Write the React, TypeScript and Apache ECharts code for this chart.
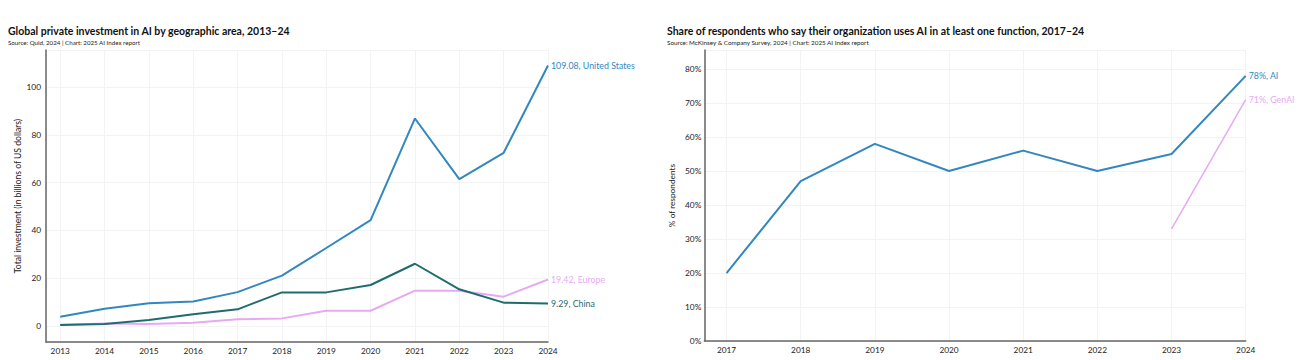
import React, { useEffect, useRef } from "react";
import * as echarts from "echarts";

const years1 = [2013, 2014, 2015, 2016, 2017, 2018, 2019, 2020, 2021, 2022, 2023, 2024];
const usValues = [3.8, 7.1, 9.4, 10.2, 14.1, 21.0, 32.6, 44.3, 86.9, 61.5, 72.5, 109.08];
const chinaValues = [0.3, 0.7, 2.4, 4.8, 6.9, 14.0, 14.0, 17.1, 26.0, 15.3, 9.7, 9.29];
const europeValues = [0.4, 1.0, 0.7, 1.3, 2.7, 3.1, 6.3, 6.3, 14.7, 14.7, 12.2, 19.42];

const years2 = [2017, 2018, 2019, 2020, 2021, 2022, 2023, 2024];
const aiValues = [20, 47, 58, 50, 56, 50, 55, 78];
const genAiYears = [2023, 2024];
const genAiValues = [33, 71];

const BLUE = "#3387bf";
const TEAL = "#1f6c70";
const PINK = "#e7aaf2";
const FONT = "Lato, 'Noto Sans', sans-serif";

const pairs = (xs: number[], ys: number[]) => xs.map((x, i) => [x, ys[i]]);

export default function App() {
  const ref = useRef<HTMLDivElement>(null);
  useEffect(() => {
    document.body.style.margin = "0";
    const chart = echarts.init(ref.current!, null, { renderer: "svg" });
    const axisLineStyle = { color: "#666", width: 1.5 };
    const splitLineStyle = { color: "#f3f3f3", width: 1 };
    const tickLabel = { color: "#222", fontSize: 8.3, fontFamily: FONT };
    const xLabelFmt = (v: number) => (Number.isInteger(v) ? String(v) : "");
    const endLabel = (color: string, fmt: (p: any) => string) => ({
      show: true,
      formatter: fmt,
      color,
      fontSize: 8.8,
      fontFamily: FONT,
      distance: 3,
    });
    chart.setOption({
      animation: false,
      graphic: [
        { type: "text", style: { text: "Global private investment in AI by geographic area, 2013–24", x: 8, y: 31, font: `bold 10.5px ${FONT}`, fill: "#111", textVerticalAlign: "middle" } },
        { type: "text", style: { text: "Source: Quid, 2024 | Chart: 2025 AI Index report", x: 8, y: 42, font: `6.2px ${FONT}`, fill: "#222", textVerticalAlign: "middle" } },
        { type: "text", style: { text: "Share of respondents who say their organization uses AI in at least one function, 2017–24", x: 667, y: 31, font: `bold 10.5px ${FONT}`, fill: "#111", textVerticalAlign: "middle" } },
        { type: "text", style: { text: "Source: McKinsey & Company Survey, 2024 | Chart: 2025 AI Index report", x: 667, y: 42, font: `6.3px ${FONT}`, fill: "#222", textVerticalAlign: "middle" } },
      ],
      grid: [
        { left: 46, top: 50, width: 502, bottom: 18 },
        { left: 704.3, top: 50, right: 58.3, bottom: 19 },
      ],
      xAxis: [
        {
          type: "value", gridIndex: 0, min: 2012.68, max: 2024, minInterval: 1, maxInterval: 1,
          axisLine: { show: true, onZero: false, lineStyle: axisLineStyle }, axisTick: { show: false },
          axisLabel: { ...tickLabel, margin: 5, formatter: xLabelFmt, showMinLabel: false },
          splitLine: { show: true, lineStyle: splitLineStyle },
        },
        {
          type: "value", gridIndex: 1, min: 2016.7, max: 2024, minInterval: 1, maxInterval: 1,
          axisLine: { show: true, onZero: false, lineStyle: axisLineStyle }, axisTick: { show: false },
          axisLabel: { ...tickLabel, margin: 5, formatter: xLabelFmt, showMinLabel: false },
          splitLine: { show: true, lineStyle: splitLineStyle },
        },
      ],
      yAxis: [
        {
          type: "value", gridIndex: 0, min: -6.8, max: 115.6, splitNumber: 5,
          name: "Total investment (in billions of US dollars)", nameLocation: "middle", nameGap: 24,
          nameTextStyle: { color: "#222", fontSize: 8.6, fontFamily: FONT },
          axisLine: { show: true, onZero: false, lineStyle: axisLineStyle }, axisTick: { show: false },
          axisLabel: { ...tickLabel, margin: 5, formatter: (v: number) => (v % 20 === 0 ? String(v) : ""), showMinLabel: false, showMaxLabel: false },
          splitLine: { show: true, lineStyle: splitLineStyle },
        },
        {
          type: "value", gridIndex: 1, min: 0, max: 85.6, interval: 10,
          name: "% of respondents", nameLocation: "middle", nameGap: 28,
          nameTextStyle: { color: "#222", fontSize: 8.3, fontFamily: FONT },
          axisLine: { show: true, onZero: false, lineStyle: axisLineStyle }, axisTick: { show: false },
          axisLabel: { ...tickLabel, margin: 3, formatter: (v: number) => (v % 10 === 0 ? v + "%" : ""), showMaxLabel: false },
          splitLine: { show: true, lineStyle: splitLineStyle },
        },
      ],
      series: [
        {
          type: "line", name: "Europe", xAxisIndex: 0, yAxisIndex: 0, data: pairs(years1, europeValues),
          symbol: "none", lineStyle: { color: PINK, width: 2 }, itemStyle: { color: PINK },
          endLabel: endLabel(PINK, (p: any) => `${p.value[1]}, Europe`),
        },
        {
          type: "line", name: "China", xAxisIndex: 0, yAxisIndex: 0, data: pairs(years1, chinaValues),
          symbol: "none", lineStyle: { color: TEAL, width: 2 }, itemStyle: { color: TEAL },
          endLabel: endLabel(TEAL, (p: any) => `${p.value[1]}, China`),
        },
        {
          type: "line", name: "United States", xAxisIndex: 0, yAxisIndex: 0, data: pairs(years1, usValues),
          symbol: "none", lineStyle: { color: BLUE, width: 2 }, itemStyle: { color: BLUE },
          endLabel: endLabel(BLUE, (p: any) => `${p.value[1]}, United States`),
        },
        {
          type: "line", name: "GenAI", xAxisIndex: 1, yAxisIndex: 1, data: pairs(genAiYears, genAiValues),
          symbol: "none", lineStyle: { color: PINK, width: 1.5 }, itemStyle: { color: PINK },
          endLabel: endLabel(PINK, (p: any) => `${p.value[1]}%, GenAI`),
        },
        {
          type: "line", name: "AI", xAxisIndex: 1, yAxisIndex: 1, data: pairs(years2, aiValues),
          symbol: "none", lineStyle: { color: BLUE, width: 2 }, itemStyle: { color: BLUE },
          endLabel: endLabel(BLUE, (p: any) => `${p.value[1]}%, AI`),
        },
      ],
    });
    return () => chart.dispose();
  }, []);
  return <div ref={ref} style={{ width: 1304, height: 360 }} />;
}
